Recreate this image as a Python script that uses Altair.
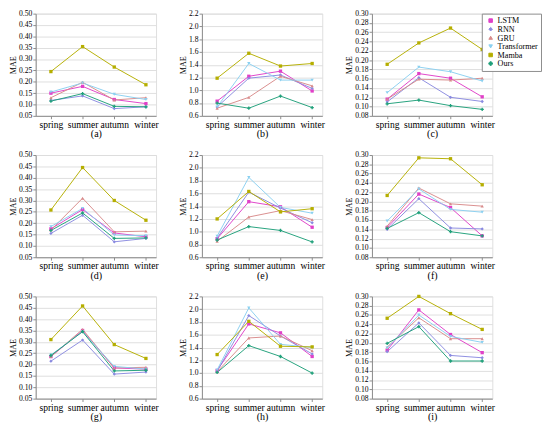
import altair as alt
import pandas as pd

seasons = ["spring", "summer", "autumn", "winter"]
models = ["LSTM", "RNN", "GRU", "Transformer", "Mamba", "Ours"]
colors = ["#E040C8", "#8A8AE0", "#D88A8A", "#8AD0F0", "#B5AE00", "#1FA07A"]
shapes = ["square", "diamond", "triangle-up", "triangle-down", "square", "cross"]

panel_a = {
    "LSTM": [0.150, 0.180, 0.122, 0.104],
    "RNN": [0.118, 0.138, 0.082, 0.090],
    "GRU": [0.130, 0.198, 0.120, 0.130],
    "Transformer": [0.155, 0.195, 0.145, 0.122],
    "Mamba": [0.245, 0.355, 0.265, 0.187],
    "Ours": [0.115, 0.148, 0.092, 0.090],
}
panel_b = {
    "LSTM": [0.83, 1.22, 1.30, 0.99],
    "RNN": [0.74, 1.19, 1.24, 1.03],
    "GRU": [0.72, 0.89, 1.22, 1.07],
    "Transformer": [0.74, 1.42, 1.16, 1.16],
    "Mamba": [1.19, 1.58, 1.38, 1.42],
    "Ours": [0.80, 0.72, 0.91, 0.73],
}
panel_c = {
    "LSTM": [0.116, 0.171, 0.161, 0.121],
    "RNN": [0.110, 0.162, 0.120, 0.111],
    "GRU": [0.116, 0.159, 0.157, 0.161],
    "Transformer": [0.130, 0.185, 0.175, 0.155],
    "Mamba": [0.191, 0.237, 0.269, 0.223],
    "Ours": [0.106, 0.114, 0.102, 0.094],
}
panel_d = {
    "LSTM": [0.175, 0.260, 0.157, 0.140],
    "RNN": [0.155, 0.235, 0.118, 0.133],
    "GRU": [0.170, 0.310, 0.162, 0.165],
    "Transformer": [0.185, 0.265, 0.148, 0.145],
    "Mamba": [0.258, 0.445, 0.300, 0.213],
    "Ours": [0.168, 0.245, 0.133, 0.135],
}
panel_e = {
    "LSTM": [0.89, 1.47, 1.39, 1.07],
    "RNN": [0.90, 1.62, 1.37, 1.14],
    "GRU": [0.85, 1.23, 1.33, 1.19],
    "Transformer": [0.93, 1.85, 1.38, 1.29],
    "Mamba": [1.20, 1.63, 1.31, 1.36],
    "Ours": [0.87, 1.08, 1.02, 0.84],
}
panel_f = {
    "LSTM": [0.144, 0.216, 0.187, 0.126],
    "RNN": [0.140, 0.206, 0.143, 0.141],
    "GRU": [0.147, 0.229, 0.195, 0.190],
    "Transformer": [0.158, 0.227, 0.183, 0.177],
    "Mamba": [0.213, 0.294, 0.292, 0.236],
    "Ours": [0.142, 0.176, 0.135, 0.126],
}
panel_g = {
    "LSTM": [0.235, 0.350, 0.185, 0.180],
    "RNN": [0.215, 0.308, 0.158, 0.167],
    "GRU": [0.235, 0.355, 0.185, 0.188],
    "Transformer": [0.242, 0.345, 0.192, 0.180],
    "Mamba": [0.310, 0.458, 0.288, 0.227],
    "Ours": [0.240, 0.345, 0.172, 0.175],
}
panel_h = {
    "LSTM": [1.04, 1.77, 1.63, 1.26],
    "RNN": [1.03, 1.90, 1.58, 1.30],
    "GRU": [1.02, 1.55, 1.58, 1.35],
    "Transformer": [1.05, 2.02, 1.45, 1.40],
    "Mamba": [1.29, 1.81, 1.42, 1.41],
    "Ours": [1.01, 1.43, 1.26, 1.00],
}
panel_i = {
    "LSTM": [0.184, 0.271, 0.218, 0.179],
    "RNN": [0.181, 0.243, 0.173, 0.168],
    "GRU": [0.191, 0.254, 0.209, 0.209],
    "Transformer": [0.189, 0.260, 0.214, 0.201],
    "Mamba": [0.253, 0.300, 0.263, 0.229],
    "Ours": [0.199, 0.235, 0.161, 0.161],
}

ticks_small = [round(0.05 + 0.05 * k, 2) for k in range(10)]
ticks_big = [round(0.6 + 0.2 * k, 1) for k in range(9)]
ticks_mid = [round(0.08 + 0.02 * k, 2) for k in range(12)]

FONT = "Liberation Serif"
W, H = 126, 107


def make_panel(data, letter, ticks, fmt, legend=False):
    rows = []
    for m in models:
        for s, v in zip(seasons, data[m]):
            rows.append({"season": s, "model": m, "MAE": v})
    df = pd.DataFrame(rows)
    x = alt.X("season:N", sort=seasons,
              scale=alt.Scale(domain=seasons, padding=0.4, align=0.6),
              axis=alt.Axis(title=f"({letter})", labelAngle=0, labelFontSize=10,
                            labelFont=FONT, titleFont=FONT, titleFontSize=10.5,
                            titleFontWeight="normal", titlePadding=0, tickSize=3,
                            labelPadding=1, labelOverlap=False))
    y = alt.Y("MAE:Q", scale=alt.Scale(domain=[ticks[0], ticks[-1]], nice=False, zero=False),
              axis=alt.Axis(title="MAE", values=ticks, format=fmt, labelFontSize=8,
                            labelFont=FONT, titleFont=FONT, titleFontSize=8.5,
                            titleFontWeight="normal", titlePadding=1, tickSize=3,
                            labelPadding=1))
    leg = None
    if legend:
        leg = alt.Legend(title=None, orient="none", legendX=115, legendY=0,
                         labelFont=FONT, labelFontSize=8.5, symbolSize=14,
                         rowPadding=0, padding=3, strokeColor="#888",
                         symbolStrokeWidth=1, labelOffset=3, symbolOffset=2,
                         fillColor="white")
    color = alt.Color("model:N", sort=models,
                      scale=alt.Scale(domain=models, range=colors), legend=leg)
    shape = alt.Shape("model:N", sort=models,
                      scale=alt.Scale(domain=models, range=shapes), legend=leg)
    base = alt.Chart(df).encode(x=x, y=y, color=color)
    lines = base.mark_line(strokeWidth=1)
    pts = base.mark_point(filled=True, size=12, opacity=1).encode(shape=shape)
    return alt.layer(lines, pts).properties(width=W, height=H)


def row(p1, p2, p3):
    return alt.hconcat(p1, p2, p3, spacing=20).resolve_legend(
        color="independent", shape="independent")


row1 = row(
    make_panel(panel_a, "a", ticks_small, ".2f"),
    make_panel(panel_b, "b", ticks_big, ".1f"),
    make_panel(panel_c, "c", ticks_mid, ".2f", legend=True),
)
row2 = row(
    make_panel(panel_d, "d", ticks_small, ".2f"),
    make_panel(panel_e, "e", ticks_big, ".1f"),
    make_panel(panel_f, "f", ticks_mid, ".2f"),
)
row3 = row(
    make_panel(panel_g, "g", ticks_small, ".2f"),
    make_panel(panel_h, "h", ticks_big, ".1f"),
    make_panel(panel_i, "i", ticks_mid, ".2f"),
)

chart = alt.vconcat(row1, row2, row3, spacing=11).resolve_legend(
    color="independent", shape="independent"
).properties(
    padding={"left": 0, "top": -9, "right": 0, "bottom": 0}
).configure_view(stroke=None).configure_axis(
    grid=False, domainColor="#000", tickColor="#000", labelColor="#000",
    titleColor="#000", domainWidth=0.8, tickWidth=0.8
).configure(background="white", font=FONT)

chart.save("out.html", embed_options={"renderer": "svg", "actions": False})
